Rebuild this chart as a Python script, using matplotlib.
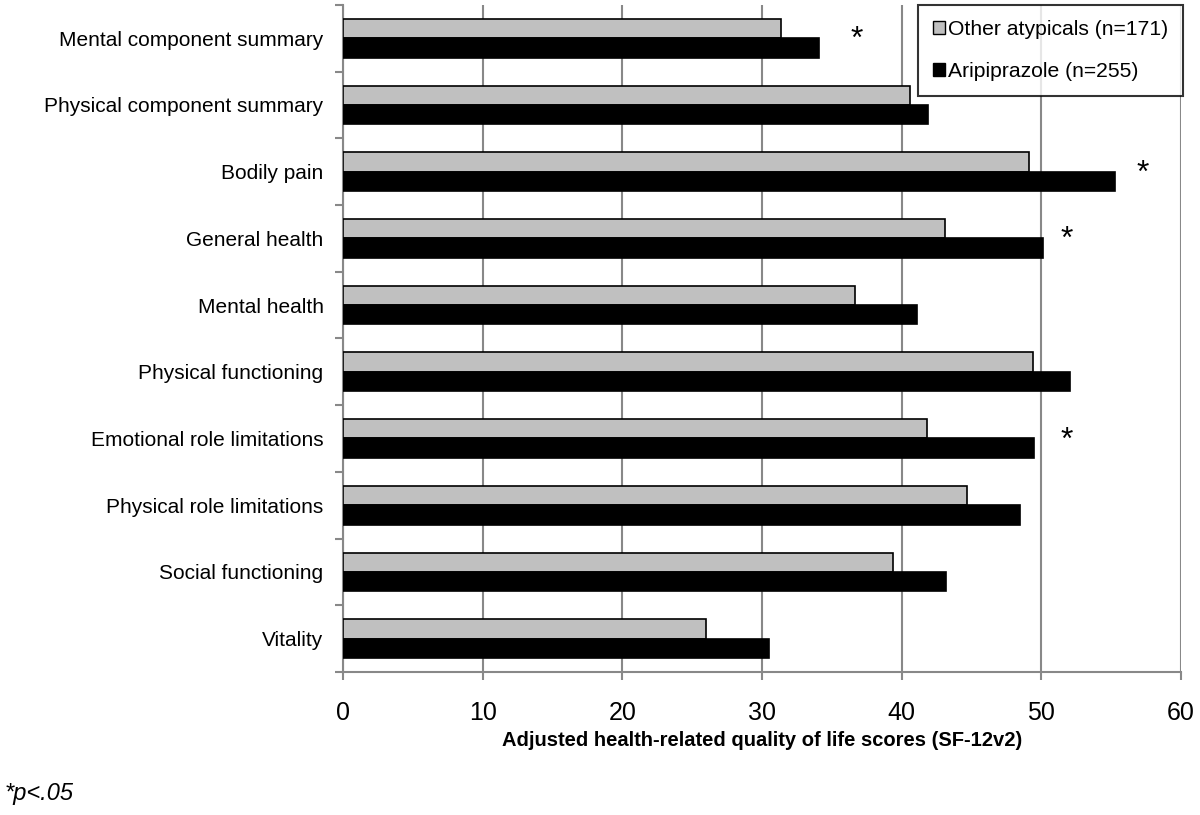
import matplotlib
matplotlib.use("Agg")
import matplotlib.pyplot as plt
import numpy as np
from matplotlib.patches import Patch

categories = ["Mental component summary", "Physical component summary", "Bodily pain",
              "General health", "Mental health", "Physical functioning",
              "Emotional role limitations", "Physical role limitations",
              "Social functioning", "Vitality"]
other_atypicals = [31.4, 40.6, 49.1, 43.1, 36.7, 49.45, 41.8, 44.7, 39.4, 26.0]
aripiprazole = [34.1, 41.9, 55.3, 50.1, 41.1, 52.1, 49.5, 48.5, 43.2, 30.5]
significant = [True, False, True, True, False, False, True, False, False, False]
star_x = [36.8, None, 57.3, 51.8, None, None, 51.8, None, None, None]

plt.rcParams['font.family'] = ['Liberation Sans', 'DejaVu Sans']

fig = plt.figure(figsize=(12, 8.15), dpi=100)
ax = fig.add_axes([0.2858, 0.1755, 0.984 - 0.2858, 0.994 - 0.1755])

n = len(categories)
y = np.arange(n)
h = 0.29
ax.barh(y - h / 2, other_atypicals, height=h, color="#c0c0c0", edgecolor="black", linewidth=1.2,
        label="Other atypicals (n=171)", zorder=3)
ax.barh(y + h / 2, aripiprazole, height=h, color="black", edgecolor="black", linewidth=1.2,
        label="Aripiprazole (n=255)", zorder=3)

for i, (s, sx) in enumerate(zip(significant, star_x)):
    if s:
        ax.text(sx, i + 0.03, "*", ha="center", va="center", fontsize=23, zorder=4)

ax.set_ylim(n - 0.5, -0.5)
ax.set_xlim(0, 60)
ax.set_xticks(np.arange(0, 61, 10))
ax.set_xticklabels([str(v) for v in range(0, 61, 10)], fontsize=18)
ax.set_yticks(y)
ax.set_yticklabels(categories, fontsize=15)
ax.tick_params(axis='y', which='major', length=0, pad=14)
ax.set_yticks(np.arange(-0.5, n + 0.5, 1), minor=True)
ax.tick_params(axis='y', which='minor', length=6, color="#888888", width=1.5)
ax.tick_params(axis='x', which='major', length=6, color="#888888", width=1.5, pad=15)

ax.grid(axis='x', color="#888888", linewidth=1.5, zorder=0)
for side in ['top', 'right']:
    ax.spines[side].set_visible(False)
for side in ['left', 'bottom']:
    ax.spines[side].set_color("#888888")
    ax.spines[side].set_linewidth(1.5)

ax.set_xlabel("Adjusted health-related quality of life scores (SF-12v2)", fontsize=14.5,
              fontweight='bold', labelpad=4)

handles = [Patch(facecolor="#c0c0c0", edgecolor="black", label="Other atypicals (n=171)"),
           Patch(facecolor="black", edgecolor="black", label="Aripiprazole (n=255)")]
leg = ax.legend(handles=handles, loc="upper right", bbox_to_anchor=(1.003, 1.0), fontsize=15.2,
                frameon=True, fancybox=False, edgecolor="black", handlelength=0.6,
                handleheight=0.6, handletextpad=0.15, borderpad=0.7, labelspacing=1.1,
                borderaxespad=0)
leg.get_frame().set_linewidth(1.5)
leg.set_zorder(5)

fig.text(0.004, 0.012, "*p<.05", fontsize=17, style='italic', ha='left', va='bottom')

fig.savefig("out.png", dpi=100)
